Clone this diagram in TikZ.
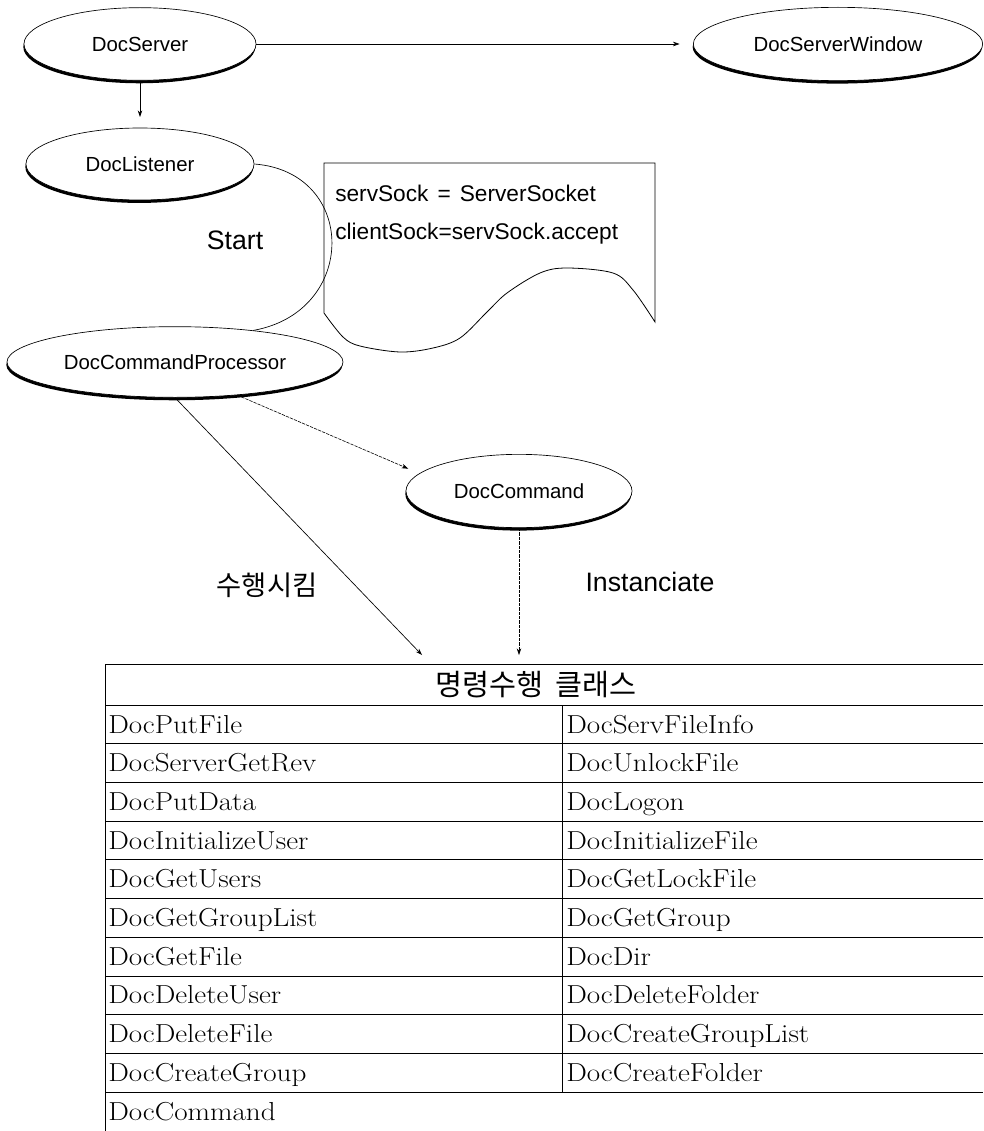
\documentclass[tikz,border=0pt]{standalone}
\usepackage{graphicx}
\usepackage{fontspec}
\newfontfamily\sansf{Liberation Sans}
\newfontfamily\krf{Noto Sans CJK KR}
\usetikzlibrary{shapes.geometric,shadows,arrows.meta,calc}
% table entries are set a little wider than the normal face
\newcommand{\widecell}[1]{\scalebox{1.12}[1]{#1}}
\begin{document}
\begin{tikzpicture}[x=0.75pt,y=-0.75pt,
  cls/.style={ellipse, draw, line width=0.5pt, fill=white, inner sep=0pt,
    font=\sansf\fontsize{15.3}{18}\selectfont,
    general shadow={fill=black, shadow xshift=-0.5pt, shadow yshift=-2.2pt}},
  arr/.style={-{Stealth[length=5pt,width=3.4pt]}, line width=0.5pt},
  dotl/.style={dash pattern=on 2.5pt off 0.8pt, line width=0.45pt},
  lbl/.style={font=\sansf\fontsize{20}{24}\selectfont},
  krlbl/.style={font=\krf\fontsize{20.5}{24}\selectfont},
  code/.style={anchor=west, inner sep=0pt, font=\sansf\fontsize{17}{20}\selectfont},
  cell/.style={anchor=base west, inner sep=0pt, font=\fontsize{19.5}{22}\selectfont},
  gridl/.style={line width=0.6pt}]
\useasboundingbox (0,0) rectangle (983,1131);

% class ellipses
\node[cls, minimum width=174pt, minimum height=54.5pt] (srv)  at (140,44)  {DocServer};
\node[cls, minimum width=217pt, minimum height=55pt]   (win)  at (838,44)  {DocServerWindow};
\node[cls, minimum width=171pt, minimum height=54pt]   (lst)  at (140,164) {DocListener};
\node[cls, minimum width=252pt, minimum height=53pt]   (proc) at (175,362) {DocCommandProcessor};
\node[cls, minimum width=169.5pt, minimum height=55pt] (cmd)  at (519,491) {DocCommand};

% server connections
\draw[arr, shorten >=10pt] (srv.east) -- (win.west);
\draw[arr, shorten >=8pt] (srv.south) -- (lst.north);

% listener starts the command processor
\draw[line width=0.5pt] (lst.east) .. controls (358,172) and (358,312) .. (proc.22);
\node[lbl] (start) at (235,240) {Start};

% socket note
\draw[line width=0.6pt] (324,163) -- (655,163) -- (655,322)
  -- plot[smooth, tension=0.55] coordinates {(655,322) (633,290) (613,273) (567,268)
     (540,273) (507,293) (487,312) (460,338) (433,348) (400,352) (360,346) (343,337) (324,313)}
  -- cycle;
\node[code] (sv) at (335,193) {servSock\hspace{0.4em}=\hspace{0.4em}ServerSocket};
\node[code] (cl) at (335,234) {clientSock=servSock.accept};

% command processor and command
\coordinate (tipA) at (422,655);
\coordinate (tipB) at (519,655);
\draw[arr, dotl, shorten >=9pt] (proc.-28) -- (cmd.170);
\draw[arr] (proc.south) -- (tipA);
\draw[arr, dotl] (cmd.south) -- (tipB);
\node[krlbl] (run) at (267,585) {수행시킴};
\node[lbl] (inst) at (650,582) {Instanciate};

% table of command classes
\node[font=\krf\fontsize{22}{26}\selectfont, inner sep=0pt] (hdr) at (536,685) {명령수행\hspace{0.4em}클래스};
\draw[gridl] (105,664) -- (983,664);
\draw[gridl] (105,664) -- (105,1131);
\foreach \k in {0,...,10}
  \draw[gridl] (105,{705+38.7*\k}) -- (983,{705+38.7*\k});
\draw[gridl] (562,705) -- (562,1092);
\foreach \a/\b [count=\i from 0] in {DocPutFile/DocServFileInfo, DocServerGetRev/DocUnlockFile,
    DocPutData/DocLogon, DocInitializeUser/DocInitializeFile, DocGetUsers/DocGetLockFile,
    DocGetGroupList/DocGetGroup, DocGetFile/DocDir, DocDeleteUser/DocDeleteFolder,
    DocDeleteFile/DocCreateGroupList, DocCreateGroup/DocCreateFolder} {
  \node[cell] (l\i) at (108,{705+38.7*\i+28}) {\widecell{\a}};
  \node[cell] (r\i) at (566,{705+38.7*\i+28}) {\widecell{\b}};
}
\node[cell] (l10) at (108,{705+38.7*10+28}) {\widecell{DocCommand}};
\end{tikzpicture}
\end{document}
